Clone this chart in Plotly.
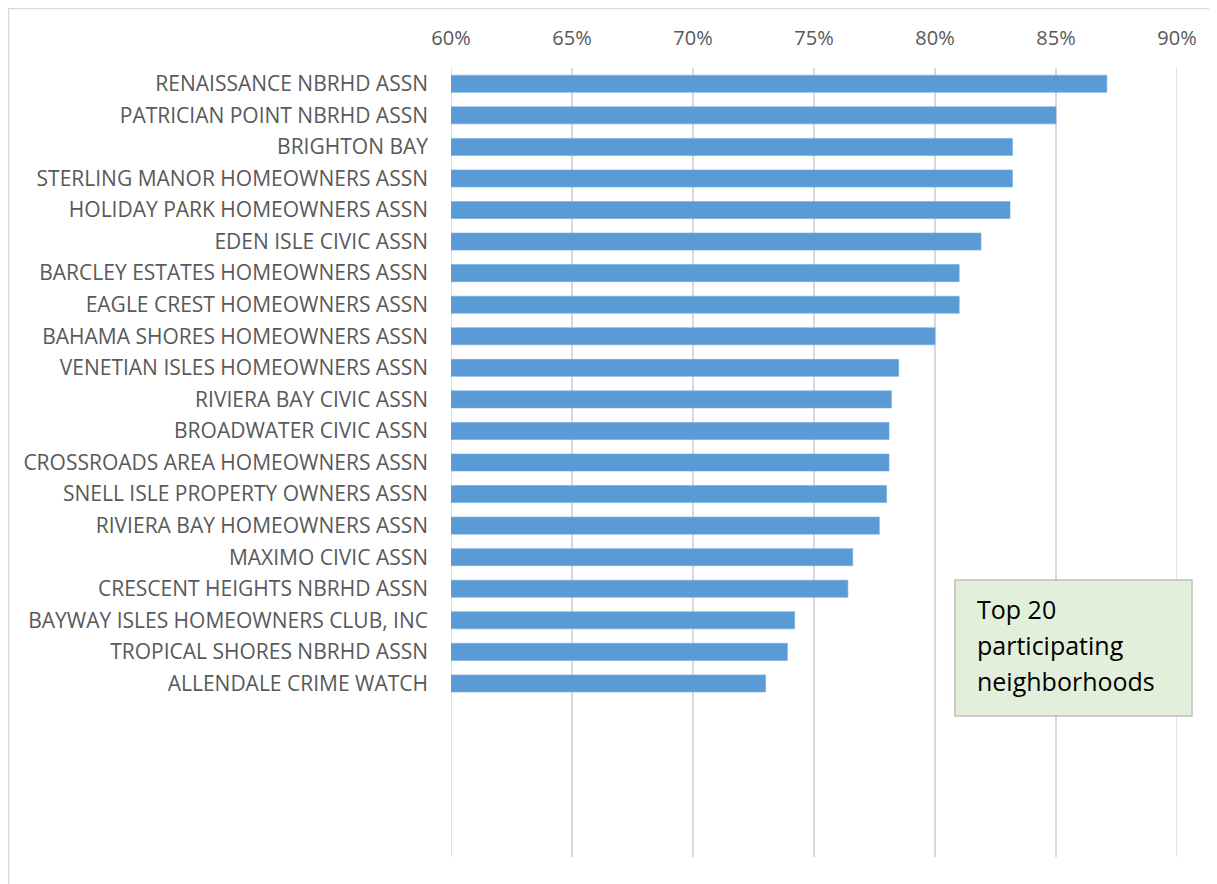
import plotly.graph_objects as go

categories = [
    "RENAISSANCE NBRHD ASSN",
    "PATRICIAN POINT NBRHD ASSN",
    "BRIGHTON BAY",
    "STERLING MANOR HOMEOWNERS ASSN",
    "HOLIDAY PARK HOMEOWNERS ASSN",
    "EDEN ISLE CIVIC ASSN",
    "BARCLEY ESTATES HOMEOWNERS ASSN",
    "EAGLE CREST HOMEOWNERS ASSN",
    "BAHAMA SHORES HOMEOWNERS ASSN",
    "VENETIAN ISLES HOMEOWNERS ASSN",
    "RIVIERA BAY CIVIC ASSN",
    "BROADWATER CIVIC ASSN",
    "CROSSROADS AREA HOMEOWNERS ASSN",
    "SNELL ISLE PROPERTY OWNERS ASSN",
    "RIVIERA BAY HOMEOWNERS ASSN",
    "MAXIMO CIVIC ASSN",
    "CRESCENT HEIGHTS NBRHD ASSN",
    "BAYWAY ISLES HOMEOWNERS CLUB, INC",
    "TROPICAL SHORES NBRHD ASSN",
    "ALLENDALE CRIME WATCH",
]
values = [0.871, 0.850, 0.832, 0.832, 0.831, 0.819, 0.810, 0.810, 0.800, 0.785,
          0.782, 0.781, 0.781, 0.780, 0.777, 0.766, 0.764, 0.742, 0.739, 0.730]
x_ticks = [0.60, 0.65, 0.70, 0.75, 0.80, 0.85, 0.90]
x_tick_labels = ["60%", "65%", "70%", "75%", "80%", "85%", "90%"]
note_lines = ["Top 20", "participating", "neighborhoods"]

FONT = "Open Sans"
AXIS_MIN = x_ticks[0]
AXIS_MAX = x_ticks[-1]

fig = go.Figure(go.Bar(
    x=[v - AXIS_MIN for v in values],
    y=categories,
    orientation="h",
    base=AXIS_MIN,
    marker=dict(color="#5B9BD5", line=dict(color="#70A9DD", width=0.6)),
    width=0.54,
))

fig.update_layout(
    width=1209,
    height=876,
    margin=dict(l=443, r=40, t=60, b=27),
    paper_bgcolor="white",
    plot_bgcolor="white",
    showlegend=False,
    font=dict(family=FONT, color="#595959"),
)
fig.update_xaxes(
    range=[AXIS_MIN, AXIS_MAX],
    side="top",
    tickvals=x_ticks,
    ticktext=x_tick_labels,
    showgrid=True,
    gridcolor="#D9D9D9",
    gridwidth=1.5,
    zeroline=False,
    showline=False,
    ticks="",
    tickfont=dict(size=20, color="#595959", family=FONT),
    ticklabelstandoff=18,
)
fig.update_yaxes(
    type="category",
    categoryorder="array",
    categoryarray=categories,
    range=[24.5, -0.5],
    showgrid=False,
    zeroline=False,
    showline=False,
    ticks="",
    tickfont=dict(size=21, color="#595959", family=FONT),
    ticklabelstandoff=22,
)

# edge gridlines (plotly clips gridlines at the range ends)
for xv in (AXIS_MIN, AXIS_MAX):
    fig.add_shape(type="line", xref="x", yref="paper", x0=xv, x1=xv, y0=0, y1=1,
                  layer="below", line=dict(color="#D9D9D9", width=1.5))

# outer frame (top and left lines)
fig.add_shape(type="line", xref="paper", yref="paper",
              x0=-0.6102, x1=1.1, y0=1.076, y1=1.076,
              line=dict(color="#D9D9D9", width=2.5))
fig.add_shape(type="line", xref="paper", yref="paper",
              x0=-0.6102, x1=-0.6102, y0=1.076, y1=-0.1,
              line=dict(color="#D9D9D9", width=2.5))

# note box
fig.add_shape(type="rect", xref="paper", yref="paper",
              x0=0.694, x1=1.0207, y0=0.1787, y1=0.351,
              fillcolor="#E2EFDA", line=dict(color="#BFBFBF", width=1.5))
for i, line in enumerate(note_lines):
    fig.add_annotation(xref="paper", yref="paper", x=0.7218, y=0.3143 - i * 0.0456,
                       xanchor="left", yanchor="middle", align="left",
                       text=line, showarrow=False,
                       font=dict(size=25, color="#000000", family=FONT))

fig.write_html("out.html")
